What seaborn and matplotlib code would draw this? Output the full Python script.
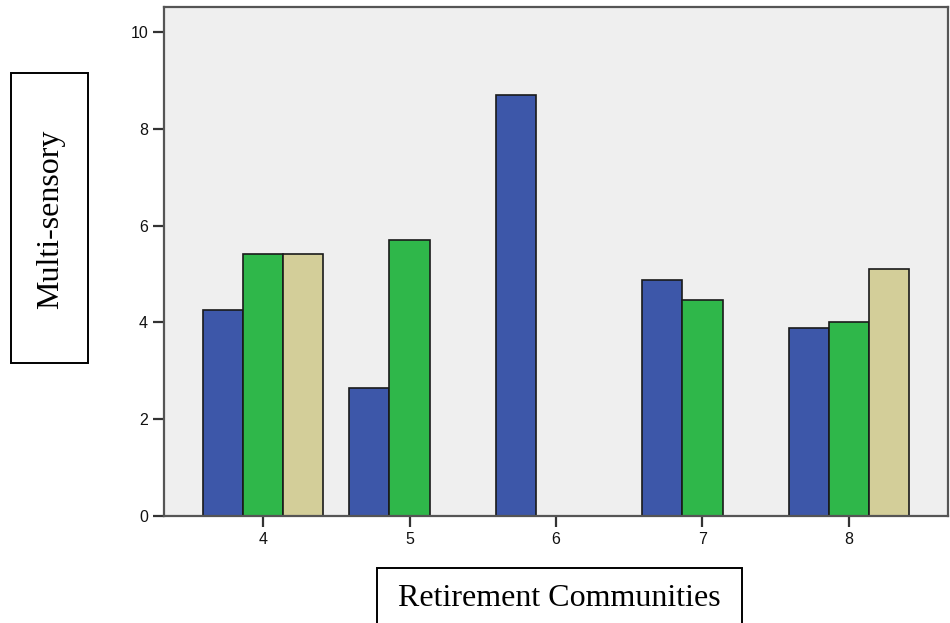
import pandas as pd
import seaborn as sns
import matplotlib.pyplot as plt
from matplotlib.patches import Rectangle

# values
communities = ["4", "5", "6", "7", "8"]
groups = ["A", "B", "C"]
values_a = [4.26, 2.65, 8.70, 4.88, 3.89]
values_b = [5.42, 5.70, None, 4.46, 4.00]
values_c = [5.42, None, None, None, 5.11]
colors = ["#3d57a9", "#2fb74a", "#d3ce99"]


def build_frame():
    rows = []
    for grp, vals in zip(groups, [values_a, values_b, values_c]):
        for com, v in zip(communities, vals):
            if v is not None:
                rows.append({"community": com, "group": grp, "value": v})
    return pd.DataFrame(rows)


def draw(df):
    sns.set_style("ticks")
    fig = plt.figure(figsize=(9.5, 6.23), dpi=100)
    ax = fig.add_axes([164 / 950, 1 - 516 / 623, (948 - 164) / 950, (516 - 7) / 623])
    ax.set_facecolor("#efefef")

    sns.barplot(data=df, x="community", y="value", hue="group",
                order=communities, hue_order=groups, palette=colors,
                saturation=1, width=0.82, edgecolor="#1a1a1a", linewidth=1.2,
                legend=False, ax=ax)

    ax.set_xlim(-0.676, 4.676)
    ax.set_ylim(0, 10.52)
    ax.set_yticks([0, 2, 4, 6, 8, 10])
    ax.set_xlabel("")
    ax.set_ylabel("")
    for side in ax.spines.values():
        side.set_color("#555555")
        side.set_linewidth(1.6)
    ax.tick_params(axis="both", length=8, width=1.6, color="#333333",
                   labelsize=11.5, labelcolor="#111111")
    for lab in ax.get_xticklabels() + ax.get_yticklabels():
        lab.set_family("Liberation Sans")

    # boxed axis titles as in the original document
    fig.patches.append(Rectangle((11 / 950, 1 - 363 / 623), 77 / 950, 290 / 623,
                                 transform=fig.transFigure, fill=False,
                                 edgecolor="black", linewidth=1.4))
    fig.patches.append(Rectangle((377 / 950, -0.02), 365 / 950, 1 - 568 / 623 + 0.02,
                                 transform=fig.transFigure, fill=False,
                                 edgecolor="black", linewidth=1.4))
    fig.text(51 / 950, 1 - 219 / 623, "Multi-sensory", rotation=90, color="black",
             ha="center", va="center", fontsize=23, family="Liberation Serif")
    fig.text(559 / 950, 1 - 598 / 623, "Retirement Communities", color="black",
             ha="center", va="center", fontsize=23, family="Liberation Serif")

    fig.savefig("out.png", dpi=100)


if __name__ == "__main__":
    dane = build_frame()
    draw(dane)
